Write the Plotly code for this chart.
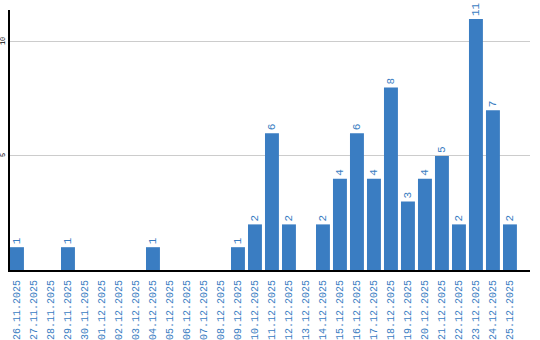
import plotly.graph_objects as go

dates = ["26.11.2025","27.11.2025","28.11.2025","29.11.2025","30.11.2025",
         "01.12.2025","02.12.2025","03.12.2025","04.12.2025","05.12.2025",
         "06.12.2025","07.12.2025","08.12.2025","09.12.2025","10.12.2025",
         "11.12.2025","12.12.2025","13.12.2025","14.12.2025","15.12.2025",
         "16.12.2025","17.12.2025","18.12.2025","19.12.2025","20.12.2025",
         "21.12.2025","22.12.2025","23.12.2025","24.12.2025","25.12.2025"]
counts = [1,0,0,1,0, 0,0,0,1,0, 0,0,0,1,2, 6,2,0,2,4, 6,4,8,3,4, 5,2,11,7,2]
y_ticks = [5, 10]

blue = "#3a7dc2"
fig = go.Figure(go.Bar(
    x=list(range(len(dates))), y=counts,
    marker=dict(color=blue, line=dict(width=0)),
    text=[str(v) if v else "" for v in counts],
    textposition="outside", textangle=-90,
    textfont=dict(family="Liberation Mono", size=11, color=blue),
    cliponaxis=False,
))
fig.update_layout(
    width=540, height=340,
    margin=dict(l=10, r=10, t=10, b=70, autoexpand=False),
    paper_bgcolor="white", plot_bgcolor="white",
    bargap=0.18, showlegend=False,
    xaxis=dict(range=[-0.41, 30.18], tickmode="array", automargin=False,
               tickvals=list(range(len(dates))), ticktext=dates,
               tickangle=-90, tickfont=dict(family="Liberation Mono", size=10, color=blue),
               showgrid=False, showline=True, linecolor="black", linewidth=2,
               ticks="", zeroline=False, ticklabelstandoff=4),
    yaxis=dict(range=[0, 11.4], tickvals=y_ticks, ticktext=[str(t) for t in y_ticks],
               automargin=False,
               tickangle=-90, tickfont=dict(family="Liberation Mono", size=7, color="black"),
               showgrid=True, gridcolor="#cccccc", gridwidth=1,
               showline=True, linecolor="black", linewidth=2,
               ticks="", zeroline=False, ticklabelstandoff=0),
)
fig.write_html("out.html")
